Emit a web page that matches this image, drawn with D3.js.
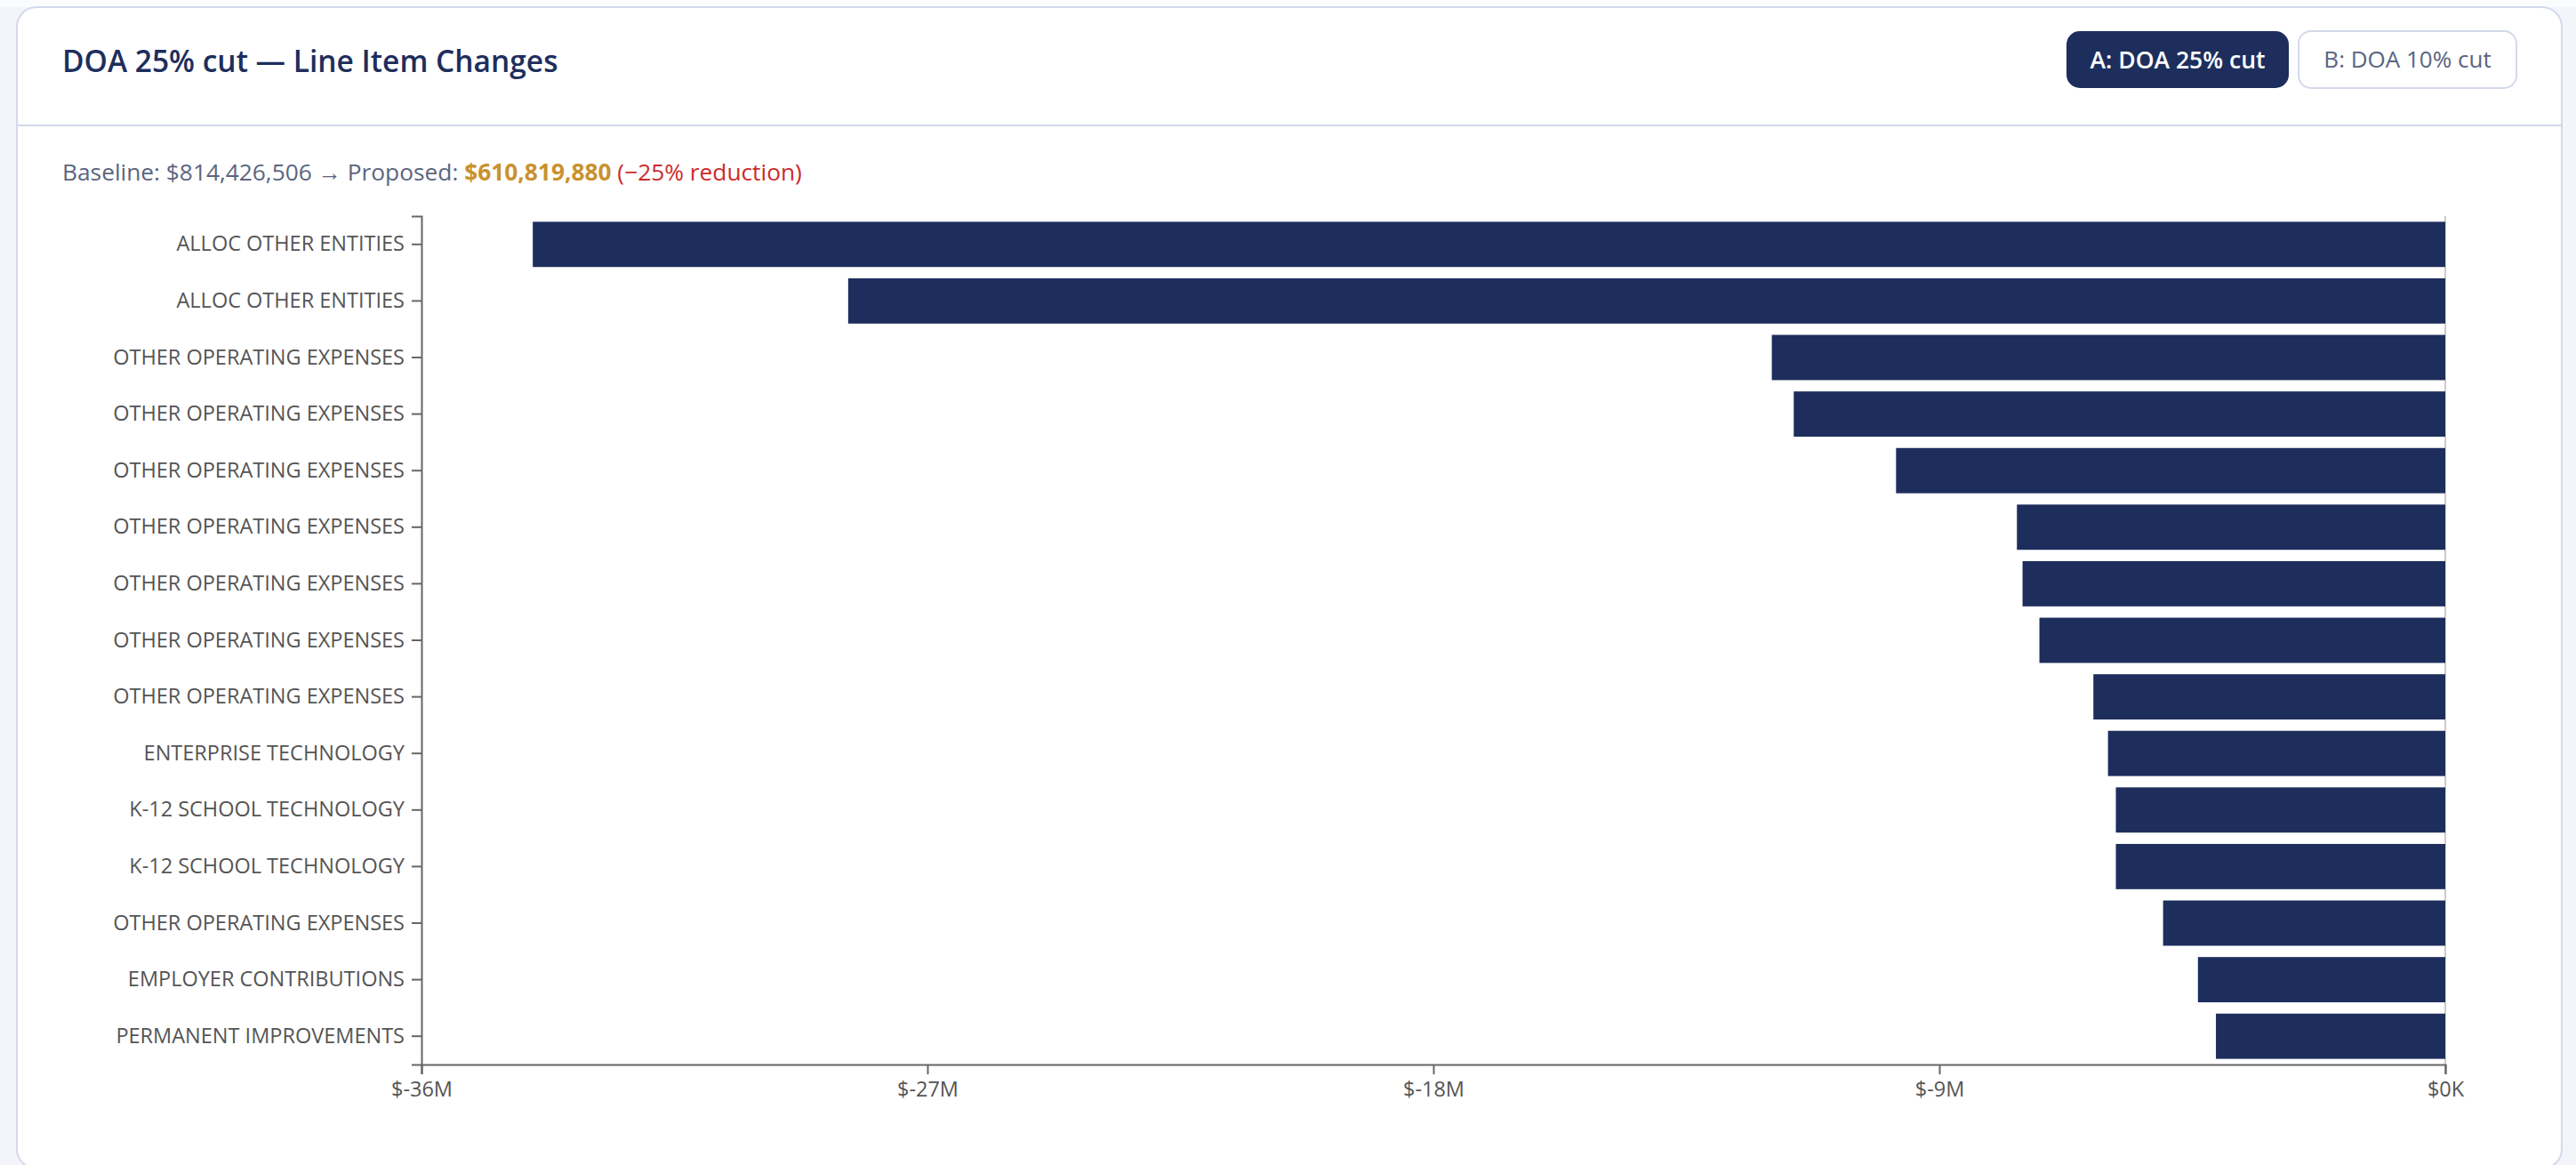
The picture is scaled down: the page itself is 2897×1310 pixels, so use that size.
<!DOCTYPE html>
<html>
<head>
<meta charset="utf-8">
<script src="https://cdn.jsdelivr.net/npm/d3@7"></script>
<style>
  html, body { margin: 0; padding: 0; }
  body { width: 2897px; height: 1310px; overflow: hidden; background: #f4f5fb; font-family: "Open Sans", "Noto Sans", sans-serif; }
  svg { display: block; }
</style>
</head>
<body>
<svg id="chart" width="2897" height="1310"></svg>
<script>
// ---- data ----
const categories = [
  "ALLOC OTHER ENTITIES",
  "ALLOC OTHER ENTITIES",
  "OTHER OPERATING EXPENSES",
  "OTHER OPERATING EXPENSES",
  "OTHER OPERATING EXPENSES",
  "OTHER OPERATING EXPENSES",
  "OTHER OPERATING EXPENSES",
  "OTHER OPERATING EXPENSES",
  "OTHER OPERATING EXPENSES",
  "ENTERPRISE TECHNOLOGY",
  "K-12 SCHOOL TECHNOLOGY",
  "K-12 SCHOOL TECHNOLOGY",
  "OTHER OPERATING EXPENSES",
  "EMPLOYER CONTRIBUTIONS",
  "PERMANENT IMPROVEMENTS"
];
const changes = [
  -34020000, -28410000, -11980000, -11590000, -9770000,
  -7620000, -7520000, -7220000, -6260000, -6000000,
  -5860000, -5860000, -5020000, -4400000, -4080000
];
const xTickValues = [-36000000, -27000000, -18000000, -9000000, 0];
const xDomain = [-36000000, 0];
const titleText = "DOA 25% cut \u2014 Line Item Changes";
const buttonLabels = ["A: DOA 25% cut", "B: DOA 10% cut"];
const baselineText = "Baseline: $814,426,506 \u2192 Proposed: ";
const proposedText = "$610,819,880";
const reductionText = " (\u221225% reduction)";

// ---- styles ----
const NAVY = "#1d2e5d";
const BORDER = "#d3d9ea";
const FONT = "'Open Sans', 'Noto Sans', sans-serif";

const svg = d3.select("#chart");

// top white strip and card
svg.append("rect").attr("x", 0).attr("y", 0).attr("width", 2897).attr("height", 8).attr("fill", "#fbfcfe");
svg.append("rect")
  .attr("x", 19).attr("y", 8).attr("width", 2862).attr("height", 1306)
  .attr("rx", 22).attr("fill", "#ffffff").attr("stroke", BORDER).attr("stroke-width", 2);
svg.append("line").attr("x1", 20).attr("x2", 2880).attr("y1", 141).attr("y2", 141)
  .attr("stroke", BORDER).attr("stroke-width", 2);

// title
svg.append("text").attr("x", 70).attr("y", 81)
  .attr("font-family", FONT).attr("font-size", 33.5).attr("font-weight", 600)
  .attr("fill", NAVY).text(titleText);

// buttons
const btns = [
  {x: 2325, y: 36, w: 248, h: 62, active: true, weight: 600, size: 26.5},
  {x: 2585, y: 35, w: 245, h: 64, active: false, weight: 500, size: 26}
];
btns.forEach((b, i) => {
  const g = svg.append("g");
  g.append("rect").attr("x", b.x).attr("y", b.y).attr("width", b.w).attr("height", b.h)
    .attr("rx", 14)
    .attr("fill", b.active ? NAVY : "#ffffff")
    .attr("stroke", b.active ? NAVY : BORDER).attr("stroke-width", 2);
  g.append("text").attr("x", b.x + b.w / 2).attr("y", b.y + b.h / 2).attr("dy", "0.36em")
    .attr("text-anchor", "middle")
    .attr("font-family", FONT).attr("font-size", b.size).attr("font-weight", b.weight)
    .attr("fill", b.active ? "#ffffff" : "#5a6580").text(buttonLabels[i]);
});

// subtitle
const sub = svg.append("text").attr("x", 70).attr("y", 203)
  .attr("font-family", FONT).attr("font-size", 26.3);
sub.append("tspan").attr("fill", "#5a6580").text(baselineText);
sub.append("tspan").attr("fill", "#c8922f").attr("font-weight", 700).text(proposedText);
sub.append("tspan").attr("fill", "#cc2b2b").text(reductionText);

// ---- chart ----
const plotLeft = 474, plotRight = 2750, plotTop = 243, plotBottom = 1197;
const x = d3.scaleLinear().domain(xDomain).range([plotLeft, plotRight]);
const y = d3.scaleBand().domain(d3.range(categories.length)).range([plotTop, plotBottom])
  .paddingInner(0.2).paddingOuter(0.1);

const fmt = v => v === 0 ? "$0K" : (Math.abs(v) >= 1e6 ? "$" + (v / 1e6) + "M" : "$" + (v / 1e3) + "K");

// zero line
svg.append("line").attr("x1", x(0)).attr("x2", x(0)).attr("y1", plotTop).attr("y2", plotBottom)
  .attr("stroke", "#cccccc").attr("stroke-width", 2);

// bars
svg.append("g").selectAll("rect").data(changes).join("rect")
  .attr("x", d => x(Math.min(0, d)))
  .attr("width", d => Math.abs(x(d) - x(0)))
  .attr("y", (d, i) => y(i))
  .attr("height", y.bandwidth())
  .attr("fill", NAVY);

// x axis
const xAxis = svg.append("g").attr("transform", `translate(0,${plotBottom})`)
  .call(d3.axisBottom(x).tickValues(xTickValues).tickFormat(fmt).tickSize(11).tickPadding(8));
// y axis
const yAxis = svg.append("g").attr("transform", `translate(${plotLeft},0)`)
  .call(d3.axisLeft(y).tickFormat(i => categories[i]).tickSize(11).tickPadding(8));

[xAxis, yAxis].forEach(a => {
  a.selectAll("path.domain").attr("stroke", "#666666").attr("stroke-width", 2);
  a.selectAll(".tick line").attr("stroke", "#666666").attr("stroke-width", 2);
  a.selectAll(".tick text").attr("font-family", FONT).attr("font-size", 23.5).attr("fill", "#555555");
});
</script>
</body>
</html>
